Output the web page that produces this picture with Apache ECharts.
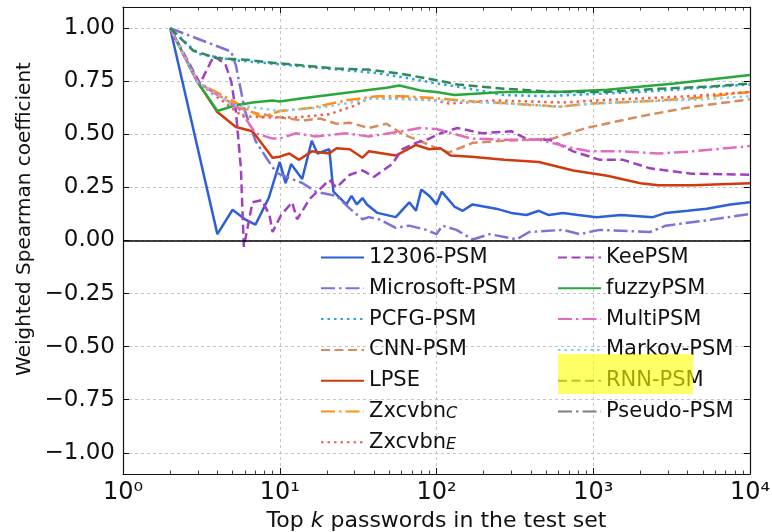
<!DOCTYPE html>
<html>
<head>
<meta charset="utf-8">
<style>
  html, body { margin: 0; padding: 0; background: #fff; }
  #chart { width: 772px; height: 532px; }
</style>
<script src="https://cdn.jsdelivr.net/npm/echarts@6/dist/echarts.min.js"></script>
</head>
<body>
<div id="chart"></div>
<script>
// 刻度
const xMajor = [1, 10, 100, 1000, 10000];
const xMinor = [2, 3, 4, 5, 6, 7, 8, 9, 20, 30, 40, 50, 60, 70, 80, 90,
  200, 300, 400, 500, 600, 700, 800, 900, 2000, 3000, 4000, 5000, 6000, 7000, 8000, 9000];
const yTicks = [-1, -0.75, -0.5, -0.25, 0, 0.25, 0.5, 0.75, 1];
const SUP = ['\u2070', '\u00b9', '\u00b2', '\u00b3', '\u2074'];

// 每条曲线: [top k, weighted spearman]
const d12306 = [[2,1.0],[4,0.03],[5,0.145],[6,0.10],[7,0.075],[8.5,0.20],[10,0.37],[10.9,0.27],[11.8,0.36],
  [13.9,0.29],[16,0.47],[17.4,0.41],[20.7,0.43],[22,0.23],[26.6,0.17],[28.7,0.21],[31,0.17],[33.7,0.20],
  [36,0.17],[42,0.13],[55,0.11],[67,0.18],[74,0.14],[80,0.24],[90,0.21],[100,0.17],[108,0.23],[130,0.16],
  [147,0.14],[170,0.17],[200,0.16],[240,0.15],[300,0.13],[375,0.12],[450,0.14],[520,0.12],[640,0.13],
  [800,0.12],[1050,0.11],[1500,0.12],[2400,0.11],[2900,0.13],[4000,0.14],[5300,0.15],[7500,0.17],[10000,0.18]];
const dMicrosoft = [[2,1.0],[4.9,0.89],[5.25,0.825],[6,0.61],[7,0.47],[8.2,0.39],[9.5,0.32],[11,0.30],[14,0.27],
  [17,0.23],[23,0.21],[28,0.15],[33.7,0.10],[37,0.11],[43,0.10],[55,0.06],[67,0.07],[86,0.05],[100,0.03],
  [109,0.07],[134,0.05],[170,0.005],[218,0.03],[325,0.005],[390,0.04],[640,0.05],[820,0.03],[1100,0.05],
  [2300,0.04],[2900,0.07],[5300,0.095],[10000,0.125]];
const dPCFG = [[2,1.0],[3,0.88],[5,0.85],[10,0.83],[20,0.81],[40,0.79],[60,0.77],[100,0.74],[150,0.72],
  [270,0.685],[500,0.68],[1000,0.69],[2000,0.70],[5000,0.72],[10000,0.735]];
const dCNN = [[2,1.0],[3,0.745],[5.5,0.625],[7,0.60],[10,0.58],[14,0.565],[18,0.575],[23,0.55],[28,0.555],
  [37,0.53],[48,0.55],[61,0.50],[78,0.47],[100,0.435],[120,0.415],[170,0.46],[270,0.47],[400,0.475],
  [550,0.48],[900,0.53],[2000,0.585],[4300,0.63],[10000,0.665]];
const dLPSE = [[2,1.0],[3,0.745],[4,0.605],[5.25,0.535],[6.7,0.515],[9,0.39],[10,0.395],[11.5,0.41],[13.3,0.38],
  [16,0.42],[20.7,0.41],[23,0.435],[28,0.43],[33.7,0.39],[37,0.42],[55,0.40],[74,0.45],[90,0.43],[106,0.435],
  [123,0.40],[167,0.395],[270,0.38],[450,0.37],[745,0.33],[1230,0.305],[2000,0.27],[2600,0.26],[4300,0.26],
  [10000,0.27]];
const dZxcC = [[2,1.0],[3,0.745],[5.25,0.65],[7.7,0.58],[10,0.61],[16,0.625],[26.5,0.66],[42,0.68],[60,0.68],
  [100,0.67],[170,0.655],[300,0.645],[610,0.63],[950,0.645],[2000,0.655],[4300,0.67],[10000,0.70]];
const dZxcE = [[2,1.0],[3,0.745],[5.8,0.585],[8.6,0.58],[12.7,0.58],[20.7,0.595],[30,0.635],[37,0.67],[60,0.67],
  [100,0.66],[120,0.645],[240,0.66],[640,0.65],[1050,0.66],[4200,0.68],[10000,0.70]];
const dKee = [[2,1.0],[3.1,0.74],[3.8,0.87],[4.5,0.83],[4.9,0.75],[5.25,0.61],[5.65,0.34],[5.9,-0.03],[6.7,0.18],
  [7.7,0.19],[8.6,0.12],[9,0.04],[10.2,0.12],[12,0.18],[12.9,0.10],[15.5,0.195],[20.7,0.285],[23,0.25],
  [28,0.31],[33.7,0.33],[40,0.30],[52,0.36],[60.6,0.43],[74,0.46],[90,0.48],[106,0.505],[136,0.53],
  [195,0.505],[300,0.515],[385,0.475],[525,0.475],[745,0.42],[1100,0.38],[1550,0.38],[2300,0.34],
  [4200,0.315],[10000,0.31]];
const dFuzzy = [[2,1.0],[3,0.745],[4,0.61],[5.1,0.635],[6.7,0.65],[9,0.66],[10,0.655],[14,0.67],[23,0.69],
  [33.7,0.705],[48,0.72],[58,0.73],[81,0.705],[100,0.70],[130,0.685],[270,0.70],[580,0.70],[1230,0.71],
  [3300,0.74],[10000,0.78]];
const dMulti = [[2,1.0],[3,0.745],[5.5,0.62],[7,0.505],[9,0.48],[10,0.48],[12.7,0.505],[17,0.49],[26.5,0.505],
  [37,0.49],[60,0.515],[78,0.53],[100,0.525],[167,0.48],[270,0.475],[450,0.475],[745,0.435],[950,0.42],
  [1500,0.42],[2600,0.41],[4300,0.42],[10000,0.445]];
const dMarkov = [[2,1.0],[3,0.745],[5,0.64],[10,0.61],[20,0.63],[40,0.67],[100,0.66],[200,0.65],[400,0.64],
  [600,0.63],[1000,0.645],[2000,0.655],[5000,0.665],[10000,0.68]];
const dRNN = [[2,1.0],[2.8,0.895],[3.9,0.86],[6.4,0.85],[9.6,0.835],[14,0.825],[23,0.81],[37,0.805],[60,0.785],
  [100,0.755],[136,0.735],[270,0.715],[580,0.70],[1230,0.70],[2600,0.715],[5500,0.725],[10000,0.74]];
const dPseudo = [];

(function () {
  const FONT = 'DejaVu Sans';
  const LW = 2.5;
  const DASH = {
    solid: 'solid',
    dashed: [9, 4.5],
    dashdot: [14, 4, 2.5, 4],
    dotted: [2.5, 4],
  };

  // name, data, colour, style
  const lines = [
    ['12306-PSM', d12306, '#2c5fd8', 'solid'],
    ['Microsoft-PSM', dMicrosoft, '#7d72d8', 'dashdot'],
    ['PCFG-PSM', dPCFG, '#27a4e6', 'dotted'],
    ['CNN-PSM', dCNN, '#d98b5f', 'dashed'],
    ['LPSE', dLPSE, '#d03a10', 'solid'],
    ['Zxcvbn_C', dZxcC, '#ff9012', 'dashdot'],
    ['Zxcvbn_E', dZxcE, '#f25c54', 'dotted'],
    ['KeePSM', dKee, '#a040c0', 'dashed'],
    ['fuzzyPSM', dFuzzy, '#26a83a', 'solid'],
    ['MultiPSM', dMulti, '#e36bbf', 'dashdot'],
    ['Markov-PSM', dMarkov, '#80cdef', 'dotted'],
    ['RNN-PSM', dRNN, '#2e8b57', 'dashed'],
    ['Pseudo-PSM', dPseudo, '#7f7f7f', 'dashdot'],
  ];

  const series = lines.map(([name, data, color, style], i) => {
    const s = {
      name, type: 'line', data,
      symbol: 'none', showSymbol: false,
      lineStyle: { color, width: LW, type: DASH[style] },
      itemStyle: { color },
      emphasis: { disabled: true },
    };
    if (i === 0) {
      // y = 0 黑线
      s.markLine = {
        silent: true, symbol: ['none', 'none'], label: { show: false },
        lineStyle: { color: '#000', width: 1.6, type: 'solid' },
        data: [{ yAxis: 0 }],
      };
    }
    return s;
  });

  const gridLine = { show: true, lineStyle: { color: '#b5b5b5', width: 0.8, type: [3, 3] } };
  const frame = { show: true, onZero: false, lineStyle: { color: '#111', width: 1.2 } };
  const hidden = { show: false, onZero: false };

  const legendText = {
    fontFamily: FONT, fontSize: 21, color: '#111', lineHeight: 21,
    rich: { s: { fontFamily: FONT, fontSize: 16, fontStyle: 'italic', color: '#111',
      verticalAlign: 'bottom', lineHeight: 12 } },
  };
  const legendFmt = (name) => {
    if (name === 'Zxcvbn_C') return 'Zxcvbn{s|C}';
    if (name === 'Zxcvbn_E') return 'Zxcvbn{s|E}';
    return name;
  };
  const legendBase = {
    orient: 'vertical', padding: 0, itemGap: 9.8, itemWidth: 43, itemHeight: 14,
    selectedMode: false, formatter: legendFmt, textStyle: legendText,
    // 只画线,不画圆点
    itemStyle: { opacity: 0, borderWidth: 0 },
  };
  const names = lines.map((l) => l[0]);

  const xCommon = { type: 'log', logBase: 10, min: 1, max: 10000, gridIndex: 0 };
  const yCommon = { type: 'value', min: -1.1, max: 1.1, gridIndex: 0 };

  const option = {
    animation: false,
    backgroundColor: '#fff',
    // v6 默认会为了放下轴名而缩小 grid,这里固定像素
    grid: { left: 123, right: 22, top: 7, bottom: 58, containLabel: false, outerBoundsMode: 'none' },
    legend: [
      Object.assign({ data: names.slice(0, 7), left: 320, top: 247 }, legendBase),
      Object.assign({ data: names.slice(7), left: 557, top: 247 }, legendBase),
    ],
    xAxis: [
      Object.assign({}, xCommon, {
        position: 'bottom',
        axisLine: frame,
        axisTick: { show: true, inside: true, length: 6, customValues: xMajor, lineStyle: { color: '#111', width: 1 } },
        axisLabel: {
          show: true, margin: 7, customValues: xMajor,
          fontFamily: FONT, fontSize: 24, color: '#111',
          formatter: (v) => '10' + SUP[Math.round(Math.log10(v))],
        },
        splitLine: gridLine,
        name: 'Top {i|k} passwords in the test set',
        nameLocation: 'middle', nameGap: 34,
        nameTextStyle: {
          fontFamily: FONT, fontSize: 22, color: '#111',
          rich: { i: { fontFamily: FONT, fontSize: 22, fontStyle: 'italic', color: '#111' } },
        },
      }),
      Object.assign({}, xCommon, {
        position: 'bottom', axisLine: hidden,
        axisTick: { show: true, inside: true, length: 3.5, customValues: xMinor, lineStyle: { color: '#111', width: 0.8 } },
        axisLabel: { show: false }, splitLine: { show: false },
      }),
      Object.assign({}, xCommon, {
        position: 'top', axisLine: frame,
        axisTick: { show: true, inside: true, length: 6, customValues: xMajor, lineStyle: { color: '#111', width: 1 } },
        axisLabel: { show: false }, splitLine: { show: false },
      }),
      Object.assign({}, xCommon, {
        position: 'top', axisLine: hidden,
        axisTick: { show: true, inside: true, length: 3.5, customValues: xMinor, lineStyle: { color: '#111', width: 0.8 } },
        axisLabel: { show: false }, splitLine: { show: false },
      }),
    ],
    yAxis: [
      Object.assign({}, yCommon, {
        position: 'left', axisLine: frame,
        axisTick: { show: true, inside: true, length: 6, customValues: yTicks, lineStyle: { color: '#111', width: 1 } },
        axisLabel: {
          show: true, margin: 8, customValues: yTicks,
          fontFamily: FONT, fontSize: 23, color: '#111',
          formatter: (v) => (v < 0 ? '\u2212' : '') + Math.abs(v).toFixed(2),
        },
        splitLine: gridLine,
      }),
      Object.assign({}, yCommon, {
        position: 'right', axisLine: frame,
        axisTick: { show: true, inside: true, length: 6, customValues: yTicks, lineStyle: { color: '#111', width: 1 } },
        axisLabel: { show: false }, splitLine: { show: false },
      }),
    ],
    graphic: [
      {
        type: 'text', x: 25, y: 219, rotation: Math.PI / 2,
        style: { text: 'Weighted Spearman coefficient', fontFamily: FONT, fontSize: 20,
          fill: '#111', align: 'center', verticalAlign: 'middle' },
      },
      {
        // 图例里 RNN-PSM 的黄色高亮
        type: 'rect', z: 100, silent: true,
        shape: { x: 558, y: 354, width: 135, height: 40 },
        style: { fill: 'rgba(255,255,0,0.6)' },
      },
    ],
    series,
  };

  const chart = echarts.init(document.getElementById('chart'), null, { renderer: 'canvas' });
  chart.setOption(option);
})();
</script>
</body>
</html>
